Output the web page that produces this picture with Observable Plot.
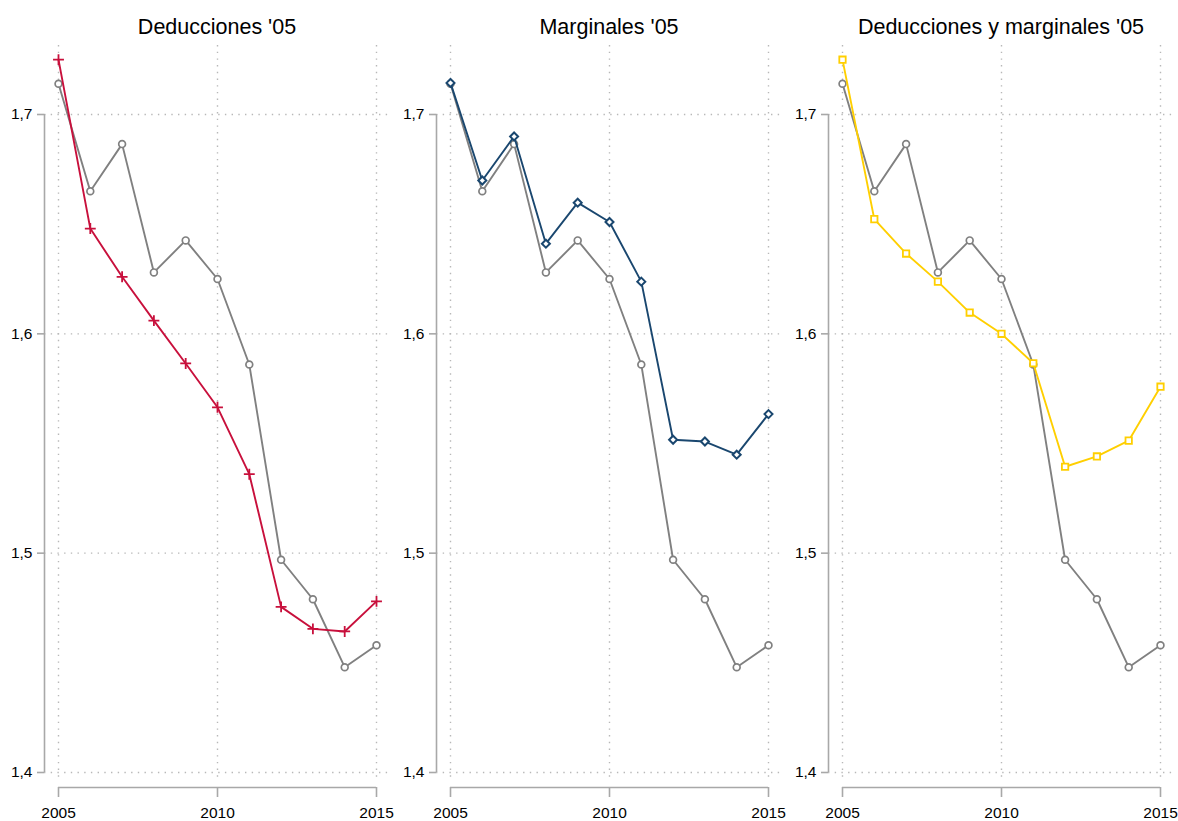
<!DOCTYPE html>
<html>
<head>
<meta charset="utf-8">
<script src="https://cdn.jsdelivr.net/npm/d3@7"></script>
<script src="https://cdn.jsdelivr.net/npm/@observablehq/plot@0.6"></script>
<style>
  html, body { margin: 0; padding: 0; background: white; }
  #chart { position: relative; width: 1178px; height: 821px; overflow: hidden; background: white; }
  .panel { position: absolute; top: 40px; }
  .panel svg { overflow: visible; }
  .title { position: absolute; top: 17px; font-family: "Liberation Sans", Arial, sans-serif; font-size: 21.5px; line-height: 1; color: black; white-space: nowrap; transform: translateX(-50%); }
</style>
</head>
<body>
<div id="chart"></div>
<script>
// ---- data ----
const years = [2005, 2006, 2007, 2008, 2009, 2010, 2011, 2012, 2013, 2014, 2015];
const xTicks = [2005, 2010, 2015];
const yTicks = [1.4, 1.5, 1.6, 1.7];

const baseline     = [1.714, 1.665, 1.6865, 1.628, 1.6426, 1.625, 1.586, 1.497, 1.479, 1.448, 1.458];
const deducciones  = [1.725, 1.648, 1.626, 1.606, 1.5865, 1.5665, 1.536, 1.4755, 1.4655, 1.4643, 1.478];
const marginales   = [1.7144, 1.6699, 1.690, 1.6411, 1.6598, 1.651, 1.6238, 1.5517, 1.5509, 1.5449, 1.5634];
const ambos        = [1.725, 1.6523, 1.6366, 1.6238, 1.6097, 1.600, 1.5866, 1.5394, 1.5441, 1.5513, 1.5759];

const titles  = ["Deducciones '05", "Marginales '05", "Deducciones y marginales '05"];
const series  = [deducciones, marginales, ambos];
const colors  = ["#c8103c", "#1a476f", "#ffcf00"];
const symbols = ["plus", "diamond2", "square"];

// ---- layout ----
const panelLefts  = [0, 392, 784];
const panelWidth  = 390;
const titleCenter = 217;

const fmt = d => d.toFixed(1).replace(".", ",");
const grid = { stroke: "#b8b8b8", strokeOpacity: 1, strokeWidth: 1.4, strokeDasharray: "1.4 5.3" };
const axisGray = "#a8a8a8";

const chart = document.getElementById("chart");

function makePanel(k) {
  const base = years.map((year, i) => ({ year, value: baseline[i] }));
  const sel  = years.map((year, i) => ({ year, value: series[k][i] }));
  const width = panelWidth;
  const symbolStyle = symbols[k] === "plus"
    ? { r: 3.6, stroke: colors[k], fill: "none", strokeWidth: 1.8 }
    : symbols[k] === "diamond2"
      ? { r: 3.6, stroke: colors[k], fill: "white", strokeWidth: 2 }
      : { r: 3.6, stroke: colors[k], fill: "white", strokeWidth: 1.8 };
  return Plot.plot({
    width,
    height: 781,
    marginLeft: 44,
    marginRight: width - 389,
    marginTop: 5,
    marginBottom: 39,
    x: { domain: [d3.min(xTicks), d3.max(xTicks)], range: [58, 376] },
    y: { domain: [d3.min(yTicks), d3.max(yTicks)], range: [732, 74] },
    style: { fontFamily: "Liberation Sans, Arial, sans-serif", fontSize: "15.5px", color: "black", background: "transparent", overflow: "visible" },
    marks: [
      Plot.gridY(yTicks, grid),
      Plot.gridX(xTicks, grid),
      Plot.ruleX([d3.min(xTicks)], { y1: d3.min(yTicks), y2: d3.max(yTicks), dx: -14, stroke: axisGray, strokeWidth: 1.6 }),
      Plot.ruleY([d3.min(yTicks)], { x1: d3.min(xTicks), x2: d3.max(xTicks), dy: 15, stroke: axisGray, strokeWidth: 1.6 }),
      Plot.axisY(yTicks, { tickSize: 7, tickPadding: 5, tickFormat: fmt, stroke: axisGray, strokeWidth: 1.6, fill: "black", label: null }),
      Plot.axisX(xTicks, { tickSize: 10, tickPadding: 9, dy: 5, tickFormat: d => String(d), stroke: axisGray, strokeWidth: 1.6, fill: "black", label: null }),
      Plot.line(base, { x: "year", y: "value", stroke: "#808080", strokeWidth: 1.9 }),
      Plot.dot(base, { x: "year", y: "value", r: 3.4, stroke: "#808080", fill: "white", strokeWidth: 1.7 }),
      Plot.line(sel, { x: "year", y: "value", stroke: colors[k], strokeWidth: 1.9 }),
      Plot.dot(sel, { x: "year", y: "value", symbol: () => symbols[k], ...symbolStyle })
    ]
  });
}

for (let k = 0; k < 3; k++) {
  const svg = makePanel(k);
  const holder = document.createElement("div");
  holder.className = "panel";
  holder.style.left = panelLefts[k] + "px";
  holder.appendChild(svg);
  chart.appendChild(holder);

  const t = document.createElement("div");
  t.className = "title";
  t.style.left = (panelLefts[k] + titleCenter) + "px";
  t.textContent = titles[k];
  chart.appendChild(t);
}
</script>
</body>
</html>
